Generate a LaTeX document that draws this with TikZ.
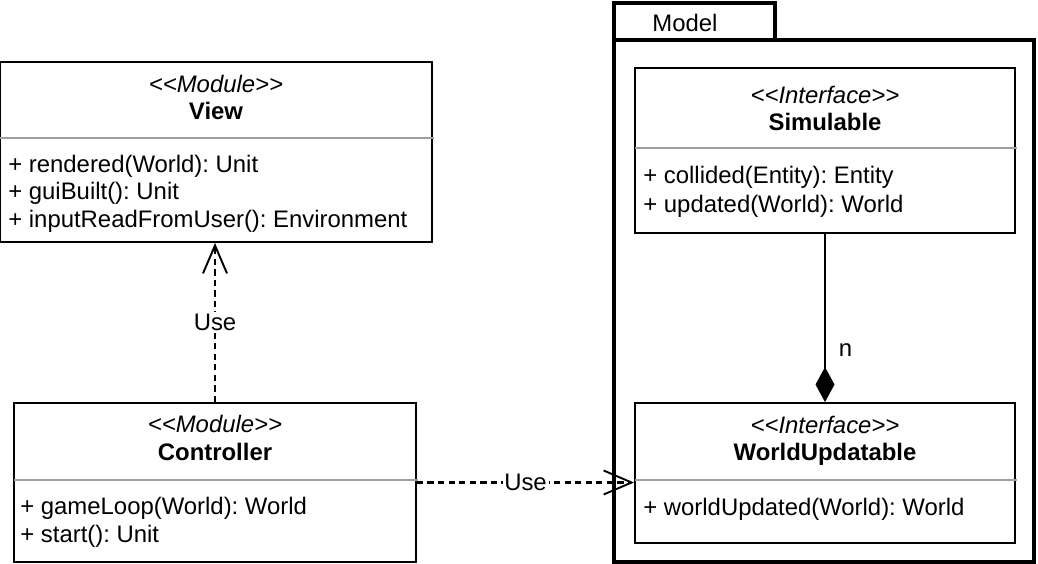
\documentclass[tikz,border=0pt]{standalone}
\usepackage{fontspec}
\setmainfont{Liberation Sans}
\usetikzlibrary{arrows.meta}

\newcommand{\umlsize}{\fontsize{13.6}{16}\selectfont}
\frenchspacing

\begin{document}
\begin{tikzpicture}[x=0.02cm, y=-0.02cm,
    classbox/.style={draw, line width=1.1pt, inner sep=0pt},
    pkgbox/.style={draw, line width=2.5pt, inner sep=0pt},
    divider/.style={draw=gray!75, line width=0.9pt},
    stereo/.style={anchor=base, font=\umlsize\itshape},
    cname/.style={anchor=base, font=\umlsize\bfseries},
    member/.style={anchor=base west, font=\umlsize, inner sep=0pt},
    useline/.style={line width=1.2pt, dash pattern=on 3.6pt off 2.4pt,
      -{Straight Barb[length=0.56cm, width=0.48cm, line width=1.1pt]}},
    lbl/.style={fill=white, font=\umlsize, inner sep=1pt}
  ]
    \useasboundingbox (0,0) rectangle (1038,564);

    % package Model
    \node[pkgbox, minimum width=3.22cm, minimum height=0.74cm] (modeltab) at (694.5,21.5) {};
    \node[pkgbox, minimum width=8.4cm, minimum height=10.44cm] (model) at (824,301) {};
    \node[font=\umlsize] (modelname) at (685,23) {Model};

    % View
    \node[classbox, minimum width=8.64cm, minimum height=3.6cm] (view) at (216,152) {};
    \node[stereo] (viewst) at (216,93) {<{}<Module>{}>};
    \node[cname] (viewname) at (216,120) {View};
    \draw[divider] (0,138) -- (434,138);
    \node[member] (viewm1) at (8,173) {+ rendered(World): Unit};
    \node[member] (viewm2) at (8,200) {+ guiBuilt(): Unit};
    \node[member] (viewm3) at (8,228) {+ inputReadFromUser(): Environment};

    % Controller
    \node[classbox, minimum width=8.04cm, minimum height=3.18cm] (ctrl) at (215,482.5) {};
    \node[stereo] (ctrlst) at (215,432) {<{}<Module>{}>};
    \node[cname] (ctrlname) at (215,460) {Controller};
    \draw[divider] (14,480) -- (418,480);
    \node[member] (ctrlm1) at (20,514) {+ gameLoop(World): World};
    \node[member] (ctrlm2) at (20,542) {+ start(): Unit};

    % Simulable
    \node[classbox, minimum width=7.6cm, minimum height=3.3cm] (sim) at (825,150.5) {};
    \node[stereo] (simst) at (825,104) {<{}<Interface>{}>};
    \node[cname] (simname) at (825,131) {Simulable};
    \draw[divider] (635,148) -- (1017,148);
    \node[member] (simm1) at (643,184) {+ collided(Entity): Entity};
    \node[member] (simm2) at (643,213) {+ updated(World): World};

    % WorldUpdatable
    \node[classbox, minimum width=7.6cm, minimum height=2.8cm] (wu) at (825,473) {};
    \node[stereo] (wust) at (825,433) {<{}<Interface>{}>};
    \node[cname] (wuname) at (825,460) {WorldUpdatable};
    \draw[divider] (635,480) -- (1017,480);
    \node[member] (wum1) at (643,515) {+ worldUpdated(World): World};

    % relations
    \draw[useline] (ctrl.north) -- node[lbl] {Use} (ctrl.north |- view.south);
    \draw[useline] (ctrl.east) -- node[lbl] {Use} (ctrl.east -| wu.west);
    \draw[line width=1.1pt, -{Diamond[length=0.7cm, width=0.38cm]}] (sim.south) --
      node[pos=0.69, anchor=west, xshift=0.26cm, inner sep=0pt, font=\umlsize] {n} (wu.north);
  \end{tikzpicture}
\end{document}
